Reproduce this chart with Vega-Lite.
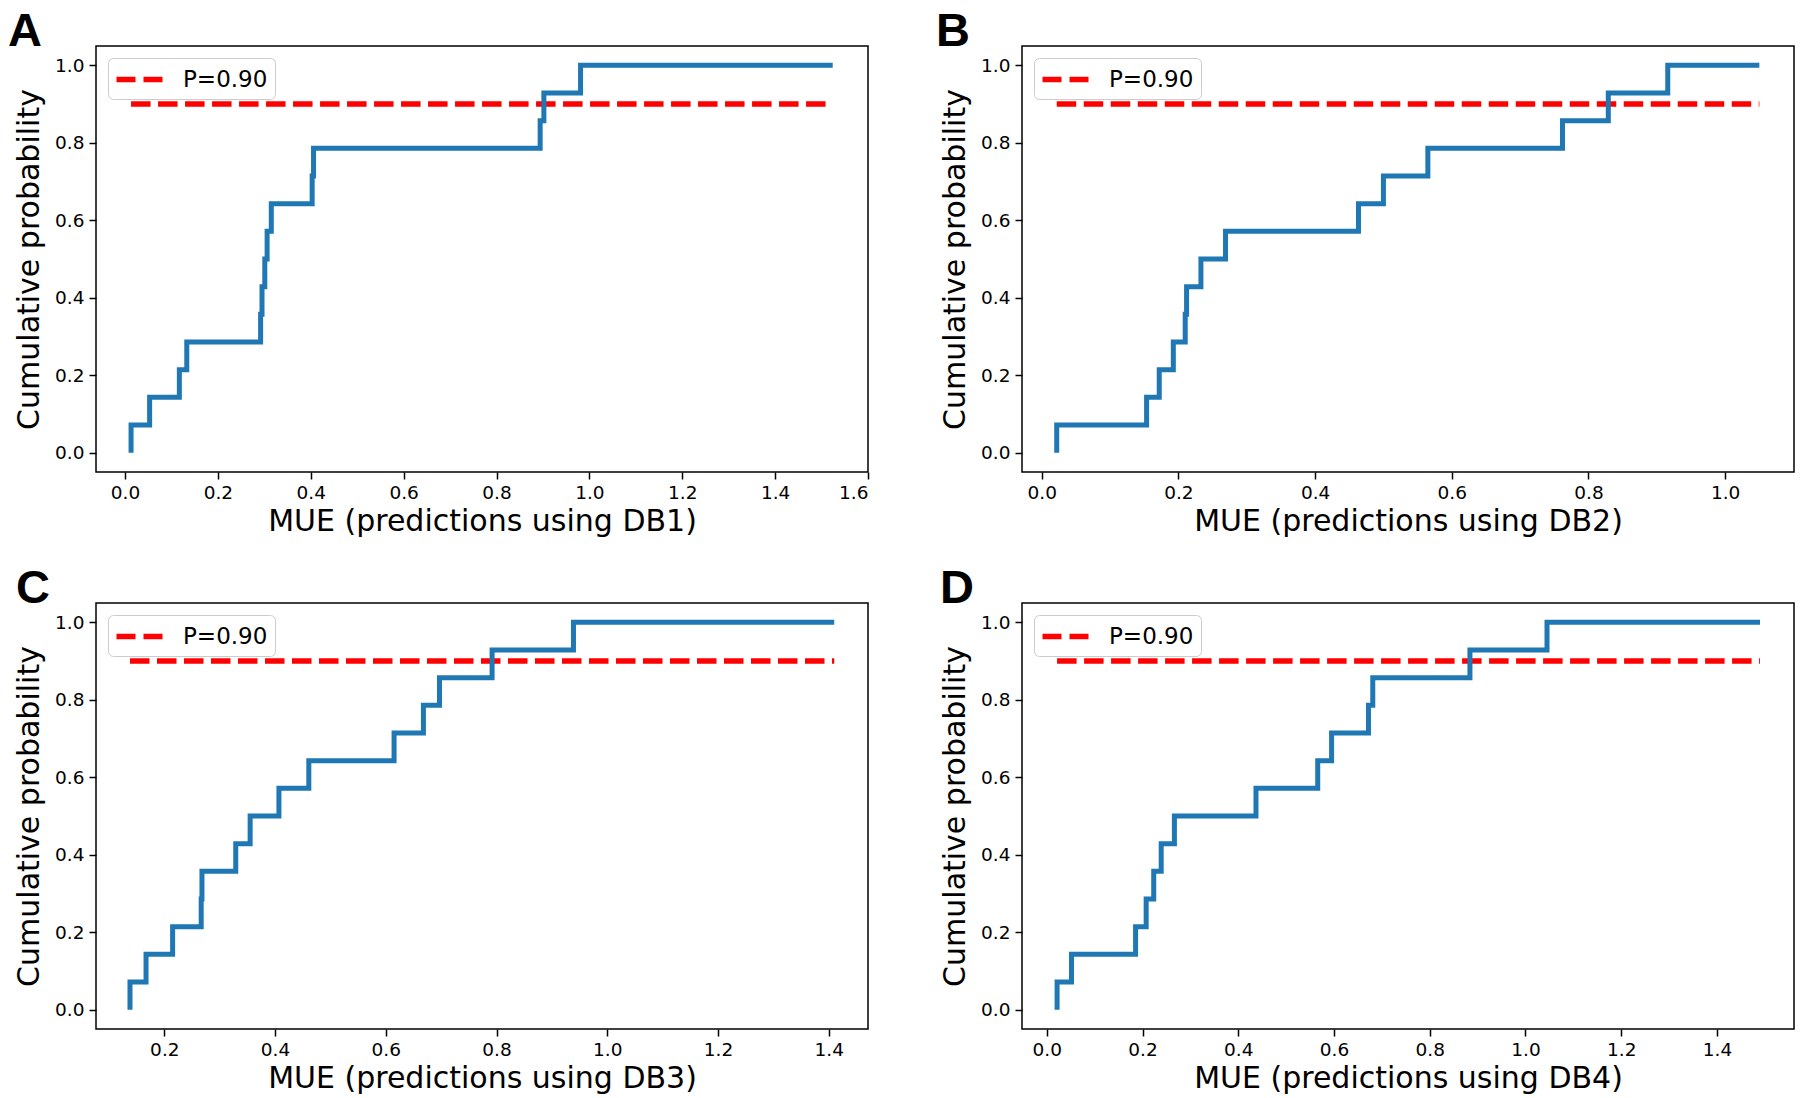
{
  "$schema": "https://vega.github.io/schema/vega-lite/v6.json",
  "background": "white",
  "padding": {"left": 7, "top": 7, "right": 7, "bottom": 0},
  "bounds": "flush",
  "columns": 2,
  "spacing": {"row": 131, "column": 154},
  "resolve": {"scale": {"x": "independent", "y": "independent", "color": "independent"}, "legend": {"color": "independent"}, "axis": {"x": "independent", "y": "independent"}},
  "config": {
    "view": {"stroke": "black", "strokeWidth": 1.5},
    "axis": {"domain": false, "grid": false, "tickColor": "black", "tickWidth": 1.5, "tickSize": 7, "labelFont": "DejaVu Sans", "labelFontSize": 18.5, "labelColor": "black", "titleFont": "DejaVu Sans", "titleFontSize": 30, "titleFontWeight": "normal", "titleColor": "black"},
    "axisX": {"labelPadding": 4, "titlePadding": 5},
    "axisY": {"labelPadding": 5, "titlePadding": 10},
    "legend": {"title": null, "orient": "top-left", "offset": 12, "padding": 7, "strokeColor": "#cccccc", "fillColor": "white", "cornerRadius": 5, "symbolType": "M-2,0H2", "symbolSize": 529, "symbolOffset": 10, "symbolStrokeWidth": 5.5, "symbolDash": [19, 8], "labelFont": "DejaVu Sans", "labelFontSize": 23, "labelOffset": 29, "labelColor": "black"},
    "title": {"font": "Liberation Sans", "fontSize": 47, "fontWeight": "bold", "color": "black", "anchor": "start", "frame": "group", "baseline": "alphabetic", "offset": -3, "dy": 7}
  },
  "datasets": {
    "ecdf": [
      {"panel": "A", "x": 0.013, "p": 0.0}, {"panel": "A", "x": 0.053, "p": 0.0714}, {"panel": "A", "x": 0.117, "p": 0.1429}, {"panel": "A", "x": 0.133, "p": 0.2143}, {"panel": "A", "x": 0.292, "p": 0.2857}, {"panel": "A", "x": 0.295, "p": 0.3571}, {"panel": "A", "x": 0.301, "p": 0.4286}, {"panel": "A", "x": 0.306, "p": 0.5}, {"panel": "A", "x": 0.315, "p": 0.5714}, {"panel": "A", "x": 0.403, "p": 0.6429}, {"panel": "A", "x": 0.406, "p": 0.7143}, {"panel": "A", "x": 0.894, "p": 0.7857}, {"panel": "A", "x": 0.902, "p": 0.8571}, {"panel": "A", "x": 0.981, "p": 0.9286}, {"panel": "A", "x": 1.524, "p": 1.0},
      {"panel": "B", "x": 0.022, "p": 0.0}, {"panel": "B", "x": 0.1535, "p": 0.0714}, {"panel": "B", "x": 0.172, "p": 0.1429}, {"panel": "B", "x": 0.1926, "p": 0.2143}, {"panel": "B", "x": 0.21, "p": 0.2857}, {"panel": "B", "x": 0.212, "p": 0.3571}, {"panel": "B", "x": 0.233, "p": 0.4286}, {"panel": "B", "x": 0.269, "p": 0.5}, {"panel": "B", "x": 0.4635, "p": 0.5714}, {"panel": "B", "x": 0.5, "p": 0.6429}, {"panel": "B", "x": 0.565, "p": 0.7143}, {"panel": "B", "x": 0.762, "p": 0.7857}, {"panel": "B", "x": 0.829, "p": 0.8571}, {"panel": "B", "x": 0.916, "p": 0.9286}, {"panel": "B", "x": 1.05, "p": 1.0},
      {"panel": "C", "x": 0.138, "p": 0.0}, {"panel": "C", "x": 0.167, "p": 0.0714}, {"panel": "C", "x": 0.215, "p": 0.1429}, {"panel": "C", "x": 0.2666, "p": 0.2143}, {"panel": "C", "x": 0.268, "p": 0.2857}, {"panel": "C", "x": 0.329, "p": 0.3571}, {"panel": "C", "x": 0.355, "p": 0.4286}, {"panel": "C", "x": 0.407, "p": 0.5}, {"panel": "C", "x": 0.461, "p": 0.5714}, {"panel": "C", "x": 0.615, "p": 0.6429}, {"panel": "C", "x": 0.668, "p": 0.7143}, {"panel": "C", "x": 0.697, "p": 0.7857}, {"panel": "C", "x": 0.792, "p": 0.8571}, {"panel": "C", "x": 0.939, "p": 0.9286}, {"panel": "C", "x": 1.41, "p": 1.0},
      {"panel": "D", "x": 0.0215, "p": 0.0}, {"panel": "D", "x": 0.0516, "p": 0.0714}, {"panel": "D", "x": 0.1855, "p": 0.1429}, {"panel": "D", "x": 0.2076, "p": 0.2143}, {"panel": "D", "x": 0.2234, "p": 0.2857}, {"panel": "D", "x": 0.239, "p": 0.3571}, {"panel": "D", "x": 0.2666, "p": 0.4286}, {"panel": "D", "x": 0.437, "p": 0.5}, {"panel": "D", "x": 0.566, "p": 0.5714}, {"panel": "D", "x": 0.595, "p": 0.6429}, {"panel": "D", "x": 0.672, "p": 0.7143}, {"panel": "D", "x": 0.681, "p": 0.7857}, {"panel": "D", "x": 0.884, "p": 0.8571}, {"panel": "D", "x": 1.045, "p": 0.9286}, {"panel": "D", "x": 1.49, "p": 1.0}
    ],
    "ref": [
      {"panel": "A", "x": 0.013, "p": 0.9, "label": "P=0.90"}, {"panel": "A", "x": 1.524, "p": 0.9, "label": "P=0.90"},
      {"panel": "B", "x": 0.022, "p": 0.9, "label": "P=0.90"}, {"panel": "B", "x": 1.05, "p": 0.9, "label": "P=0.90"},
      {"panel": "C", "x": 0.138, "p": 0.9, "label": "P=0.90"}, {"panel": "C", "x": 1.41, "p": 0.9, "label": "P=0.90"},
      {"panel": "D", "x": 0.0215, "p": 0.9, "label": "P=0.90"}, {"panel": "D", "x": 1.49, "p": 0.9, "label": "P=0.90"}
    ]
  },
  "concat": [
    {
      "width": 772, "height": 426,
      "title": {"text": "A", "dx": -88},
      "layer": [
        {"data": {"name": "ref"}, "transform": [{"filter": "datum.panel === 'A'"}],
         "mark": {"type": "line", "strokeWidth": 5.5, "strokeDash": [19.5, 7.5], "strokeCap": "butt"},
         "encoding": {
           "x": {"field": "x", "type": "quantitative", "scale": {"domain": [-0.0625, 1.6], "nice": false, "zero": false}, "axis": {"values": [0, 0.2, 0.4, 0.6, 0.8, 1.0, 1.2, 1.4, 1.6], "format": ".1f"}, "title": "MUE (predictions using DB1)"},
           "y": {"field": "p", "type": "quantitative", "scale": {"domain": [-0.05, 1.05], "nice": false, "zero": false}, "axis": {"values": [0, 0.2, 0.4, 0.6, 0.8, 1.0], "format": ".1f"}, "title": "Cumulative probability"},
           "color": {"field": "label", "type": "nominal", "scale": {"domain": ["P=0.90"], "range": ["#ff0000"]}}
         }},
        {"data": {"name": "ecdf"}, "transform": [{"filter": "datum.panel === 'A'"}],
         "mark": {"type": "line", "interpolate": "step-before", "color": "#1f77b4", "strokeWidth": 5},
         "encoding": {
           "x": {"field": "x", "type": "quantitative"},
           "y": {"field": "p", "type": "quantitative"},
           "order": {"field": "p", "type": "quantitative"}
         }}
      ]
    },
    {
      "width": 772, "height": 426,
      "title": {"text": "B", "dx": -86},
      "layer": [
        {"data": {"name": "ref"}, "transform": [{"filter": "datum.panel === 'B'"}],
         "mark": {"type": "line", "strokeWidth": 5.5, "strokeDash": [19.5, 7.5], "strokeCap": "butt"},
         "encoding": {
           "x": {"field": "x", "type": "quantitative", "scale": {"domain": [-0.0288, 1.1007], "nice": false, "zero": false}, "axis": {"values": [0, 0.2, 0.4, 0.6, 0.8, 1.0], "format": ".1f"}, "title": "MUE (predictions using DB2)"},
           "y": {"field": "p", "type": "quantitative", "scale": {"domain": [-0.05, 1.05], "nice": false, "zero": false}, "axis": {"values": [0, 0.2, 0.4, 0.6, 0.8, 1.0], "format": ".1f"}, "title": "Cumulative probability"},
           "color": {"field": "label", "type": "nominal", "scale": {"domain": ["P=0.90"], "range": ["#ff0000"]}}
         }},
        {"data": {"name": "ecdf"}, "transform": [{"filter": "datum.panel === 'B'"}],
         "mark": {"type": "line", "interpolate": "step-before", "color": "#1f77b4", "strokeWidth": 5},
         "encoding": {
           "x": {"field": "x", "type": "quantitative"},
           "y": {"field": "p", "type": "quantitative"},
           "order": {"field": "p", "type": "quantitative"}
         }}
      ]
    },
    {
      "width": 772, "height": 426,
      "title": {"text": "C", "dx": -80},
      "layer": [
        {"data": {"name": "ref"}, "transform": [{"filter": "datum.panel === 'C'"}],
         "mark": {"type": "line", "strokeWidth": 5.5, "strokeDash": [19.5, 7.5], "strokeCap": "butt"},
         "encoding": {
           "x": {"field": "x", "type": "quantitative", "scale": {"domain": [0.0766, 1.471], "nice": false, "zero": false}, "axis": {"values": [0.2, 0.4, 0.6, 0.8, 1.0, 1.2, 1.4], "format": ".1f"}, "title": "MUE (predictions using DB3)"},
           "y": {"field": "p", "type": "quantitative", "scale": {"domain": [-0.05, 1.05], "nice": false, "zero": false}, "axis": {"values": [0, 0.2, 0.4, 0.6, 0.8, 1.0], "format": ".1f"}, "title": "Cumulative probability"},
           "color": {"field": "label", "type": "nominal", "scale": {"domain": ["P=0.90"], "range": ["#ff0000"]}}
         }},
        {"data": {"name": "ecdf"}, "transform": [{"filter": "datum.panel === 'C'"}],
         "mark": {"type": "line", "interpolate": "step-before", "color": "#1f77b4", "strokeWidth": 5},
         "encoding": {
           "x": {"field": "x", "type": "quantitative"},
           "y": {"field": "p", "type": "quantitative"},
           "order": {"field": "p", "type": "quantitative"}
         }}
      ]
    },
    {
      "width": 772, "height": 426,
      "title": {"text": "D", "dx": -82},
      "layer": [
        {"data": {"name": "ref"}, "transform": [{"filter": "datum.panel === 'D'"}],
         "mark": {"type": "line", "strokeWidth": 5.5, "strokeDash": [19.5, 7.5], "strokeCap": "butt"},
         "encoding": {
           "x": {"field": "x", "type": "quantitative", "scale": {"domain": [-0.0518, 1.561], "nice": false, "zero": false}, "axis": {"values": [0, 0.2, 0.4, 0.6, 0.8, 1.0, 1.2, 1.4], "format": ".1f"}, "title": "MUE (predictions using DB4)"},
           "y": {"field": "p", "type": "quantitative", "scale": {"domain": [-0.05, 1.05], "nice": false, "zero": false}, "axis": {"values": [0, 0.2, 0.4, 0.6, 0.8, 1.0], "format": ".1f"}, "title": "Cumulative probability"},
           "color": {"field": "label", "type": "nominal", "scale": {"domain": ["P=0.90"], "range": ["#ff0000"]}}
         }},
        {"data": {"name": "ecdf"}, "transform": [{"filter": "datum.panel === 'D'"}],
         "mark": {"type": "line", "interpolate": "step-before", "color": "#1f77b4", "strokeWidth": 5},
         "encoding": {
           "x": {"field": "x", "type": "quantitative"},
           "y": {"field": "p", "type": "quantitative"},
           "order": {"field": "p", "type": "quantitative"}
         }}
      ]
    }
  ]
}
